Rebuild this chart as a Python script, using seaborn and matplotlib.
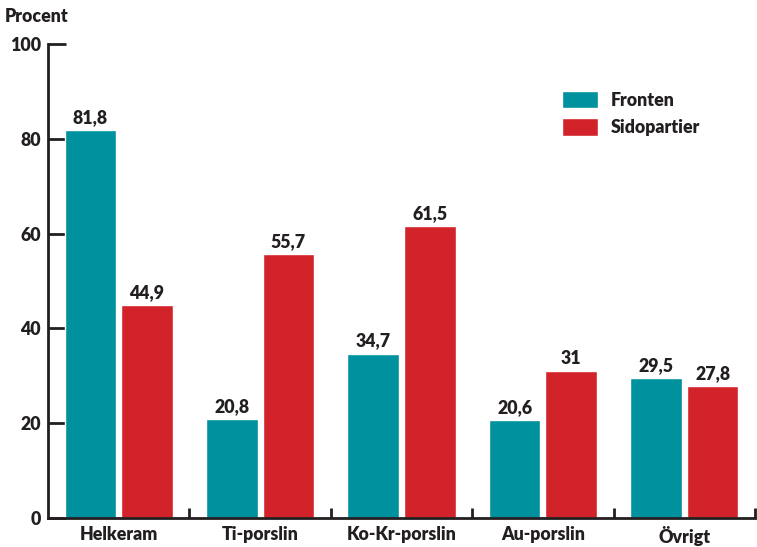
import pandas as pd
import matplotlib
matplotlib.use('Agg')
import matplotlib.pyplot as plt
import seaborn as sns
from matplotlib.patches import Patch

# Data
kategorier = ['Helkeram', 'Ti-porslin', 'Ko-Kr-porslin', 'Au-porslin', 'Övrigt']
fronten = [81.8, 20.8, 34.7, 20.6, 29.5]
sidopartier = [44.9, 55.7, 61.5, 31, 27.8]
y_ticks = [0, 20, 40, 60, 80, 100]

df = pd.DataFrame({
    'Kategori': kategorier * 2,
    'Procent': fronten + sidopartier,
    'Serie': ['Fronten'] * len(kategorier) + ['Sidopartier'] * len(kategorier),
})

sns.set_style('white')
plt.rcParams['font.family'] = ['Lato', 'DejaVu Sans']

dark = '#231f20'
colors = {'Fronten': '#00919e', 'Sidopartier': '#d2232b'}
vikt = 'heavy'
fs = 12.8

fig = plt.figure(figsize=(7.57, 5.47), dpi=100)
ax = fig.add_axes([48 / 757, 29 / 547, 707 / 757, 474 / 547])

sns.barplot(data=df, x='Kategori', y='Procent', hue='Serie', palette=colors,
            width=0.8, gap=0.09, saturation=1, ax=ax, legend=False)

# Värdeetiketter
for container in ax.containers:
    labels = [f'{v:g}'.replace('.', ',') for v in container.datavalues]
    ax.bar_label(container, labels=labels, padding=3, fontsize=fs,
                 fontweight=vikt, color=dark)

ax.set_xlim(-0.5, len(kategorier) - 0.5)
ax.set_ylim(0, 100)
ax.set_yticks(y_ticks)
ax.set_xlabel('')
ax.set_ylabel('')

for side in ['top', 'right']:
    ax.spines[side].set_visible(False)
for side in ['left', 'bottom']:
    ax.spines[side].set_color(dark)
    ax.spines[side].set_linewidth(2)

ax.tick_params(axis='y', which='major', left=True, direction='in', length=13,
               width=2, color=dark, labelsize=fs, labelcolor=dark, pad=5)
ax.set_xticks([i + 0.5 for i in range(len(kategorier))], minor=True)
ax.tick_params(axis='x', which='major', bottom=True, length=0, labelsize=fs,
               labelcolor=dark, pad=6)
ax.tick_params(axis='x', which='minor', bottom=True, direction='in', length=7,
               width=2, color=dark)
for lbl in ax.get_xticklabels() + ax.get_yticklabels():
    lbl.set_fontweight(vikt)

fig.text(5 / 757, 1 - 17 / 547, 'Procent', fontsize=fs, fontweight=vikt,
         color=dark, va='center', ha='left')

handles = [Patch(facecolor=colors[s], label=s) for s in ['Fronten', 'Sidopartier']]
leg = ax.legend(handles=handles, loc='upper left', bbox_to_anchor=(0.705, 0.935),
                frameon=False, fontsize=fs, handlelength=2.0, handleheight=1.15,
                handletextpad=0.7, labelspacing=0.55)
for t in leg.get_texts():
    t.set_color(dark)
    t.set_fontweight(vikt)

fig.savefig('out.png', dpi=100)
